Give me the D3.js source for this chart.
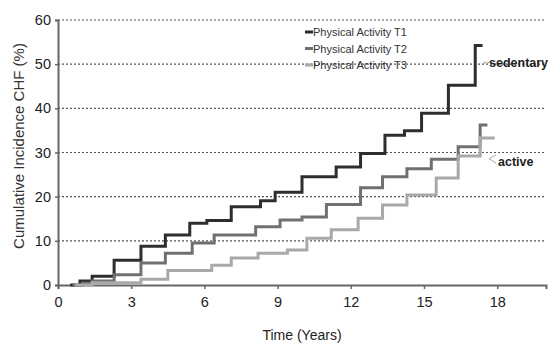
<!DOCTYPE html>
<html>
<head>
<meta charset="utf-8">
<script src="https://cdn.jsdelivr.net/npm/d3@7"></script>
<style>
  body { margin: 0; background: #fff; }
  svg { display: block; font-family: "Liberation Sans", Arial, sans-serif; }
</style>
</head>
<body>
<svg id="chart" width="555" height="344"></svg>
<script>
// données (temps en années, incidence en %)
const seriesNames = ["Physical Activity T1", "Physical Activity T2", "Physical Activity T3"];
const t1Time  = [0.5, 0.9, 1.4, 2.3, 3.4, 4.4, 5.4, 6.1, 7.1, 8.3, 8.9, 10.0, 11.4, 12.4, 13.4, 14.2, 14.9, 16.0, 17.1, 17.4];
const t1Value = [0, 0.9, 2.0, 5.6, 8.8, 11.3, 14.0, 14.6, 17.7, 19.1, 21.0, 24.5, 26.7, 29.8, 33.9, 34.9, 38.9, 45.2, 54.2, 54.2];
const t2Time  = [0.6, 1.0, 1.4, 2.3, 3.4, 4.4, 5.5, 6.4, 8.1, 9.1, 10.0, 11.0, 12.4, 13.3, 14.3, 15.3, 16.4, 17.3, 17.6];
const t2Value = [0, 0.4, 0.9, 2.3, 5.0, 7.2, 9.5, 11.3, 13.2, 14.7, 15.4, 18.2, 22.0, 24.5, 26.3, 28.5, 31.3, 36.2, 36.2];
const t3Time  = [0.7, 1.4, 3.4, 4.5, 6.3, 7.1, 8.2, 9.4, 10.2, 11.2, 12.3, 13.3, 14.3, 15.5, 16.4, 17.3, 17.9];
const t3Value = [0, 0.5, 1.3, 3.3, 4.5, 6.1, 7.2, 7.9, 10.6, 12.5, 15.1, 18.1, 20.4, 24.2, 29.2, 33.3, 33.3];
const xTicks = [0, 3, 6, 9, 12, 15, 18];
const yTicks = [0, 10, 20, 30, 40, 50, 60];
const colors = ["#2e2e2e", "#707070", "#a9a9a9"];

const svg = d3.select("#chart");
const x = d3.scaleLinear().domain([0, 20]).range([58, 546]);
const y = d3.scaleLinear().domain([0, 60]).range([285, 20]);

// grille pointillée
svg.append("g")
  .selectAll("line")
  .data(yTicks.filter(d => d > 0))
  .join("line")
  .attr("x1", x(0)).attr("x2", x(20))
  .attr("y1", d => y(d)).attr("y2", d => y(d))
  .attr("stroke", "#555")
  .attr("stroke-width", 1.2)
  .attr("stroke-dasharray", "2,2");

// axes
const xAxis = svg.append("g")
  .attr("transform", `translate(0,${y(0)})`)
  .call(d3.axisBottom(x).tickValues(xTicks).tickSize(4).tickPadding(8));
const yAxis = svg.append("g")
  .attr("transform", `translate(${x(0)},0)`)
  .call(d3.axisLeft(y).tickValues(yTicks).tickSize(3).tickPadding(4));
[xAxis, yAxis].forEach(a => {
  a.select(".domain").attr("stroke", "#666").attr("stroke-width", 2);
  a.selectAll(".tick line").attr("stroke", "#666").attr("stroke-width", 1.5);
  a.selectAll(".tick text").attr("fill", "#222").style("font-size", "14.5px");
});

// courbes en escalier
const line = d3.line()
  .x(d => x(d[0]))
  .y(d => y(d[1]))
  .curve(d3.curveStepAfter);
const series = [
  d3.zip(t1Time, t1Value),
  d3.zip(t2Time, t2Value),
  d3.zip(t3Time, t3Value)
];
svg.append("g")
  .selectAll("path")
  .data(series)
  .join("path")
  .attr("d", line)
  .attr("fill", "none")
  .attr("stroke", (d, i) => colors[i])
  .attr("stroke-width", 3);

// légende
const legend = svg.append("g")
  .selectAll("g")
  .data(seriesNames)
  .join("g")
  .attr("transform", (d, i) => `translate(305,${32 + i * 16.5})`);
legend.append("line")
  .attr("x1", 0).attr("x2", 8)
  .attr("stroke", (d, i) => colors[i])
  .attr("stroke-width", 3);
legend.append("text")
  .attr("x", 8).attr("y", 4)
  .attr("fill", "#333")
  .style("font-size", "11px")
  .text(d => d);

// annotations
svg.append("line")
  .attr("x1", x(17.45)).attr("x2", x(17.75))
  .attr("y1", y(50.4)).attr("y2", y(50.4))
  .attr("stroke", "#999").attr("stroke-width", 1.5).attr("stroke-dasharray", "2,1.5");
svg.append("text")
  .attr("x", 489).attr("y", y(50.4) + 4.5)
  .attr("fill", "#222")
  .style("font-size", "12.5px").style("font-weight", "bold")
  .text("sedentary");
svg.append("path")
  .attr("d", `M496,${y(27.6)} L489,${y(28.6)} L496,${y(29.4)}`)
  .attr("fill", "none").attr("stroke", "#aaa").attr("stroke-width", 1);
svg.append("text")
  .attr("x", 498).attr("y", y(28) + 4.5)
  .attr("fill", "#222")
  .style("font-size", "12.5px").style("font-weight", "bold")
  .text("active");

// titres des axes
svg.append("text")
  .attr("x", 302).attr("y", 340)
  .attr("text-anchor", "middle")
  .attr("fill", "#222")
  .style("font-size", "14px")
  .text("Time (Years)");
svg.append("text")
  .attr("transform", "translate(24,146) rotate(-90)")
  .attr("text-anchor", "middle")
  .attr("fill", "#333")
  .style("font-size", "15px")
  .text("Cumulative Incidence CHF (%)");
</script>
</body>
</html>
